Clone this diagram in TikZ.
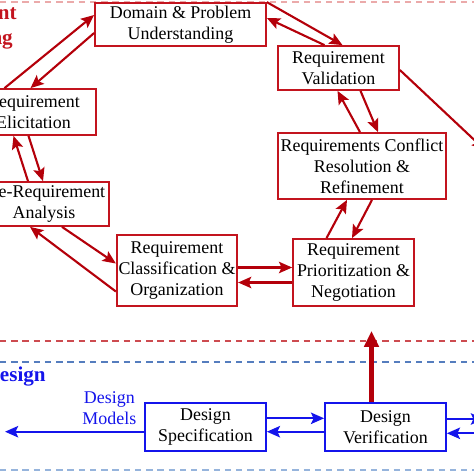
\documentclass[tikz,border=0pt]{standalone}
\usepackage{fontspec}
\setmainfont{Liberation Serif}
\usepackage{xcolor}
\usetikzlibrary{arrows.meta,positioning,calc}

\definecolor{reqred}{RGB}{195,20,30}
\definecolor{arrred}{RGB}{180,0,10}
\definecolor{desblue}{RGB}{20,20,235}
\definecolor{sepred}{RGB}{205,75,80}
\definecolor{sepblue}{RGB}{85,125,190}
\definecolor{lightred}{RGB}{235,170,170}
\definecolor{lightblue}{RGB}{150,180,220}

\begin{document}
\begin{tikzpicture}[
    x=0.02cm, y=-0.02cm,
    reqbox/.style={rectangle, draw=reqred, line width=1pt, fill=white, align=center, inner sep=1pt, font=\fontsize{10.2}{12}\selectfont},
    desbox/.style={rectangle, draw=desblue, line width=1pt, fill=white, align=center, inner sep=1pt, font=\fontsize{10.2}{12}\selectfont, minimum width=2.42cm, minimum height=0.96cm},
    reqarrow/.style={->, >={Stealth[length=7.5pt,width=6.5pt,inset=1.5pt]}, line width=1.2pt, draw=arrred},
    desarrow/.style={->, >={Stealth[length=7.5pt,width=6.5pt,inset=1.5pt]}, line width=1.2pt, draw=desblue},
    bigarrow/.style={->, >={Triangle[length=9pt,width=8pt]}, line width=2.6pt, draw=arrred},
    sepline/.style={dashed, dash pattern=on 3.6pt off 2.8pt, line width=0.9pt},
    heading/.style={font=\fontsize{12}{14}\selectfont\bfseries, align=center, inner sep=0pt},
]
\clip (0,0) rectangle (474,474);

% Separators
\draw[sepline, lightred] (0,2) -- (474,2);
\draw[sepline, sepred] (0,341) -- (474,341);
\draw[sepline, sepblue] (0,362) -- (474,362);
\draw[sepline, lightblue] (0,470) -- (474,470);

% Requirement boxes
\node[reqbox, minimum width=3.42cm, minimum height=0.86cm] (domain) at (180.5,24.5) {Domain \& Problem\\Understanding};
\node[reqbox, minimum width=2.42cm, minimum height=0.88cm] (valid) at (338.5,68) {Requirement\\Validation};
\node[reqbox, minimum width=3.36cm, minimum height=1.32cm] (conflict) at (362,166) {Requirements Conflict\\Resolution \&\\Refinement};
\node[reqbox, minimum width=2.42cm, minimum height=1.34cm] (prior) at (353.5,272.5) {Requirement\\Prioritization \&\\Negotiation};
\node[reqbox, minimum width=2.4cm, minimum height=1.42cm] (classif) at (177,270.5) {Requirement\\Classification \&\\Organization};
\node[reqbox, minimum width=2.6cm, minimum height=0.88cm] (prereq) at (44,204) {Pre-Requirement\\Analysis};
\node[reqbox, minimum width=2.5cm, minimum height=0.92cm] (elicit) at (33.5,112) {Requirement\\Elicitation};

% Design boxes
\node[desbox] (dspec) at (205.5,427) {Design\\Specification};
\node[desbox] (dverif) at (385.5,427) {Design\\Verification};

% Free ends
\coordinate (modelsend) at (5,431.7);
\coordinate (validout) at (485,150);
\coordinate (verifout) at (484,419);
\coordinate (verifin) at (484,433.3);
\coordinate (feedback) at (371.5,331);

% Arrows - requirement cycle
\draw[reqarrow] ($(elicit.north)+(-29,0)$) -- ($(domain.west)+(0,-9.5)$);
\draw[reqarrow] ($(domain.west)+(0,8.5)$) -- ($(elicit.north)+(-3,0)$);
\draw[reqarrow] (domain.north east) -- ($(valid.north)+(4,0)$);
\draw[reqarrow] ($(valid.north)+(-14,0)$) -- ($(domain.east)+(0,-6.5)$);
\draw[reqarrow] ($(valid.south)+(22,0)$) -- ($(conflict.north)+(16,0)$);
\draw[reqarrow] ($(conflict.north)+(-2,0)$) -- ($(valid.south)+(-1,0)$);
\draw[reqarrow] ($(conflict.south)+(10,0)$) -- ($(prior.north)+(-1.5,0)$);
\draw[reqarrow] ($(prior.north)+(-27,0)$) -- ($(conflict.south)+(-15,0)$);
\draw[reqarrow] ($(classif.east)+(0,-3)$) -- ($(prior.west)+(0,-5)$);
\draw[reqarrow] ($(prior.west)+(0,10)$) -- ($(classif.east)+(0,12)$);
\draw[reqarrow] ($(prereq.south)+(18,0)$) -- ($(classif.west)+(0,-7)$);
\draw[reqarrow] ($(classif.west)+(0,21)$) -- ($(prereq.south)+(-14,0)$);
\draw[reqarrow] ($(elicit.south)+(-5,0)$) -- ($(prereq.north)+(-1,0)$);
\draw[reqarrow] ($(prereq.north)+(-16,0)$) -- ($(elicit.south)+(-20,0)$);
\draw[reqarrow] ($(valid.east)+(0,2)$) -- (validout);

% Arrows - design
\draw[desarrow] ($(dspec.east)+(0,-8.7)$) -- ($(dverif.west)+(0,-8.7)$);
\draw[desarrow] ($(dverif.west)+(0,4.7)$) -- ($(dspec.east)+(0,4.7)$);
\draw[desarrow] ($(dspec.west)+(0,4.7)$) -- node[above, align=center, text=desblue, font=\fontsize{10.2}{12}\selectfont, pos=0.25] {Design\\Models} (modelsend);
\draw[desarrow] ($(dverif.east)+(0,-8)$) -- (verifout);
\draw[desarrow] (verifin) -- ($(dverif.east)+(0,6.3)$);

% Feedback to requirements
\draw[bigarrow] ($(dverif.north)+(-14,0)$) -- (feedback);

% Labels
\node[heading, text=reqred, anchor=east] (reqlabel) at (17,27) {Requirement\\Engineering};
\node[heading, text=desblue, anchor=east] (deslabel) at (46,377) {Design};

\end{tikzpicture}
\end{document}
